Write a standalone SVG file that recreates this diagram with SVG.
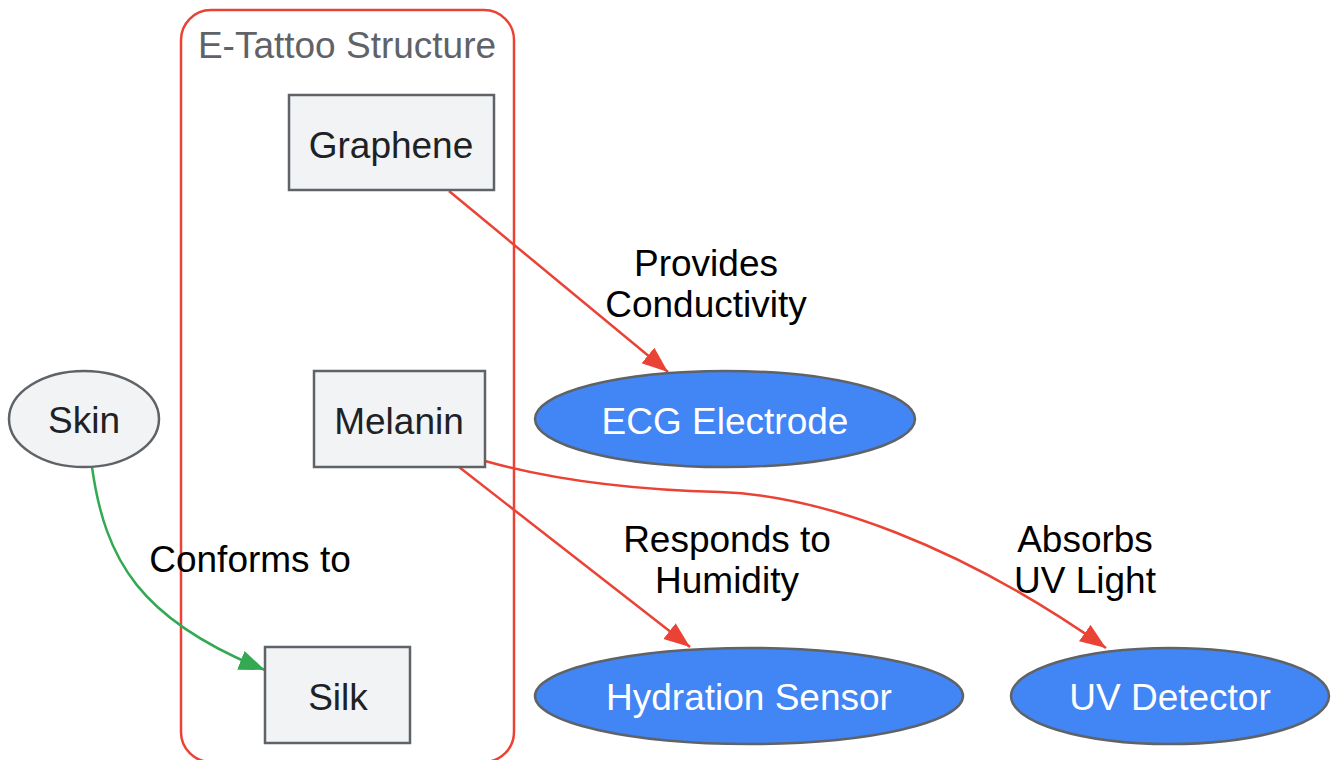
<svg xmlns="http://www.w3.org/2000/svg" width="1331" height="760" viewBox="0 0 1331 760">
<style>
text{font-family:"Liberation Sans",Arial,sans-serif;font-size:37px;text-anchor:middle;dominant-baseline:central}
.box{fill:#f1f3f4;stroke:#5f6368;stroke-width:2.5}
.out{fill:#4285f4;stroke:#5f6368;stroke-width:2.5}
.dark{fill:#202124}
.white{fill:#ffffff}
.lbl{fill:#000000}
.red{fill:none;stroke:#ea4335;stroke-width:2.5}
.green{fill:none;stroke:#34a853;stroke-width:2.5}
</style>
<defs>
<marker id="ar" markerUnits="userSpaceOnUse" markerWidth="30" markerHeight="24" refX="26" refY="10" orient="auto"><path d="M0,0 L26,10 L0,20 Z" fill="#ea4335"/></marker>
<marker id="ag" markerUnits="userSpaceOnUse" markerWidth="30" markerHeight="24" refX="26" refY="10" orient="auto"><path d="M0,0 L26,10 L0,20 Z" fill="#34a853"/></marker>
</defs>
<rect width="1331" height="760" fill="#ffffff"/>
<g id="cluster">
<rect x="181" y="10" width="333" height="752" rx="30" fill="none" stroke="#ea4335" stroke-width="2.5"/>
<text x="347" y="45" fill="#5f6368">E-Tattoo Structure</text>
</g>
<g id="edges">
<path class="red" d="M449,191 L668,372" marker-end="url(#ar)"/>
<path class="red" d="M459,467 L690,647" marker-end="url(#ar)"/>
<path class="red" d="M485,461 C560,482 640,490 720,492 C820,495 960,545 1106,648" marker-end="url(#ar)"/>
<path class="green" d="M92,467 C105,560 140,620 265,670" marker-end="url(#ag)"/>
<text class="lbl" x="706" y="263">Provides</text>
<text class="lbl" x="706" y="304">Conductivity</text>
<text class="lbl" x="727" y="539">Responds to</text>
<text class="lbl" x="727" y="580">Humidity</text>
<text class="lbl" x="1085" y="539">Absorbs</text>
<text class="lbl" x="1085" y="580">UV Light</text>
<text class="lbl" x="250" y="559">Conforms to</text>
</g>
<g id="graphene"><rect class="box" x="289" y="95" width="205" height="95"/><text class="dark" x="391" y="145">Graphene</text></g>
<g id="melanin"><rect class="box" x="314" y="371" width="171" height="96"/><text class="dark" x="399" y="421">Melanin</text></g>
<g id="silk"><rect class="box" x="265" y="647" width="145" height="96"/><text class="dark" x="338" y="697">Silk</text></g>
<g id="skin"><ellipse class="box" cx="84" cy="419" rx="75" ry="48"/><text class="dark" x="84" y="420">Skin</text></g>
<g id="ecg"><ellipse class="out" cx="725" cy="419" rx="190" ry="48"/><text class="white" x="725" y="421">ECG Electrode</text></g>
<g id="hydration"><ellipse class="out" cx="749" cy="696" rx="214" ry="48"/><text class="white" x="749" y="697">Hydration Sensor</text></g>
<g id="uv"><ellipse class="out" cx="1170" cy="696" rx="159" ry="48"/><text class="white" x="1170" y="697">UV Detector</text></g>
</svg>
